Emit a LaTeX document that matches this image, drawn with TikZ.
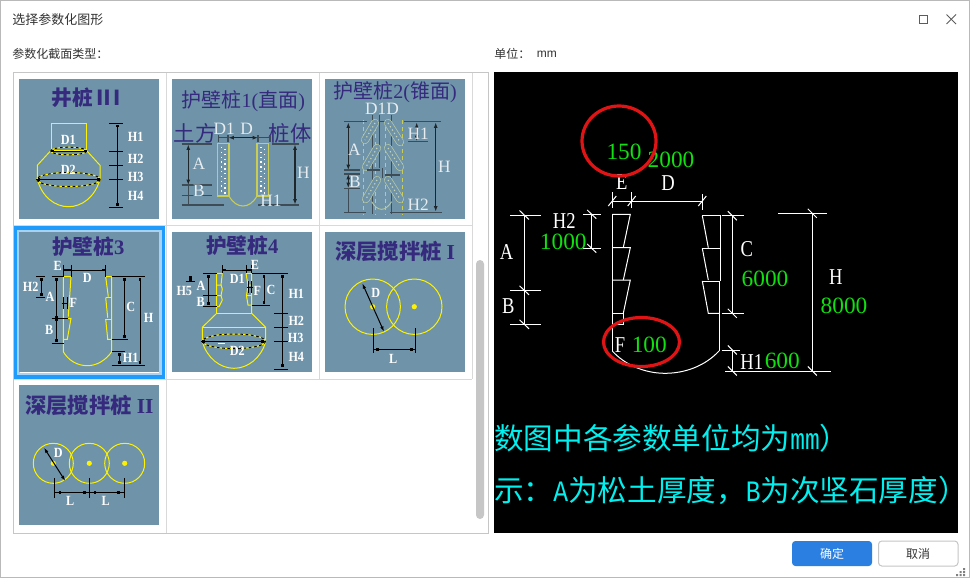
\documentclass[tikz,border=0pt]{standalone}
\usepackage{fontspec}
\setmainfont{Liberation Serif}
\newfontfamily\cjk{Noto Sans CJK SC}
\newfontfamily\cadfont[FakeStretch=0.82]{Liberation Serif}
\newfontfamily\thumbfont[FakeStretch=0.87]{Liberation Serif}
\newfontfamily\halfwidth[FakeStretch=0.83]{Liberation Mono}
\usepackage{tikz}
\usetikzlibrary{positioning,calc}
\usetikzlibrary{arrows.meta}
\definecolor{panelblue}{HTML}{6F93A8}
\definecolor{titleblue}{HTML}{352A7E}
\definecolor{selblue}{HTML}{1E9BFB}
\definecolor{sellight}{HTML}{A6D2F8}
\definecolor{gridgray}{HTML}{D9D9D9}
\definecolor{uitext}{HTML}{333333}
\definecolor{cadgreen}{HTML}{10E010}
\definecolor{cadred}{HTML}{E01414}
\definecolor{cadcyan}{HTML}{00F0F0}
\definecolor{okblue}{HTML}{2B7FE0}
\definecolor{softline}{HTML}{3E4C56}
\definecolor{softyellow}{HTML}{C9CC55}
\definecolor{softwhite}{HTML}{E6ECF0}
\definecolor{softpale}{HTML}{B6C8A4}
\tikzstyle{panel} = [fill=panelblue, draw=none]
\tikzstyle{uilabel} = [inner sep=0pt, anchor=west, text=uitext, font=\cjk\fontsize{9}{11}\selectfont]
\tikzstyle{boldtitle} = [inner sep=0pt, text=titleblue, font=\cjk\bfseries\fontsize{15.5}{17}\selectfont]
\tikzstyle{softtitle} = [inner sep=0pt, text=titleblue, font=\cjk\fontsize{15}{17}\selectfont]
\tikzstyle{softword} = [inner sep=0pt, text=titleblue, font=\cjk\fontsize{16}{17}\selectfont]
\tikzstyle{softlbl} = [inner sep=0pt, text=softwhite, font=\fontsize{13}{14}\selectfont]
\tikzstyle{boldlbl} = [inner sep=0pt, text=white, font=\thumbfont\bfseries\fontsize{10.5}{12}\selectfont]
\tikzstyle{cadlbl} = [inner sep=0pt, text=white, font=\cadfont\fontsize{17}{18}\selectfont]
\tikzstyle{cadnum} = [inner sep=0pt, text=cadgreen, font=\fontsize{17.5}{18}\selectfont]
\tikzstyle{cadnote} = [inner sep=0pt, anchor=west, text=cadcyan, font=\cjk\fontsize{22.2}{24}\selectfont]
\tikzstyle{cadline} = [white, line width=0.75pt]
\tikzstyle{redring} = [cadred, line width=2.4pt]
\tikzstyle{ypile} = [yellow, line width=0.75pt]
\tikzstyle{ydash} = [black, line width=0.75pt, dash pattern=on 2pt off 2pt]
\tikzstyle{bline} = [black, line width=0.75pt]
\tikzstyle{sqdim} = [black, line width=0.75pt, {Square[length=2.2pt,width=2.2pt]}-{Square[length=2.2pt,width=2.2pt]}]
\tikzstyle{arrdim} = [black, line width=0.75pt, {Latex[length=4pt,width=2.6pt]}-{Latex[length=4pt,width=2.6pt]}]
\tikzstyle{softdim} = [softline, line width=0.8pt]
\tikzstyle{softarr} = [softline!50!black, line width=0.8pt, {Latex[length=4pt,width=3pt]}-{Latex[length=4pt,width=3pt]}]
\tikzstyle{softpile} = [softyellow, line width=0.8pt]
\tikzstyle{softdots} = [white, line width=1.1pt, dash pattern=on 1pt off 2.6pt]
\tikzstyle{capout} = [softpale, line width=6pt, line cap=round]
\tikzstyle{capin} = [panelblue, line width=4.9pt, line cap=round]
\tikzstyle{capdots} = [softpale!80!white, line width=0.9pt, dash pattern=on 0.9pt off 2pt]
\tikzstyle{softdash} = [softyellow, line width=0.7pt, dash pattern=on 3pt off 2.4pt]
\begin{document}
\begin{tikzpicture}[x=0.75pt,y=-0.75pt]
\useasboundingbox (0,0) rectangle (970,578);
\fill[white] (0,0) rectangle (970,578);
\draw[gray!55, line width=0.9pt] (0.5,0.5) rectangle (969.5,577.5);
\node[uilabel, font=\cjk\fontsize{9.75}{11}\selectfont] (wintitle) at (12,20) {选择参数化图形};
\draw[uitext!80, line width=0.75pt] (919,15) rectangle (927.5,23.5);
\draw[uitext!80, line width=0.75pt] (946.5,14.5) -- (956,24);
\draw[uitext!80, line width=0.75pt] (956,14.5) -- (946.5,24);
\node[uilabel] (typelabel) at (12,54) {参数化截面类型：};
\node[uilabel] (unitlabel) at (494,54) {单位：};
\node[uilabel, font=\fontsize{9}{11}\selectfont, right=4.5pt of unitlabel.east, inner sep=0pt, anchor=west] (unitvalue) {\fontspec{Liberation Sans}mm};

\draw[gray!45, line width=0.75pt] (13,72.5) rectangle (488,533);
\draw[gridgray, line width=0.75pt] (166,73) -- (166,533);
\draw[gridgray, line width=0.75pt] (319.5,73) -- (319.5,379);
\draw[gridgray, line width=0.75pt] (472,73) -- (472,379);
\draw[gridgray, line width=0.75pt] (14,225) -- (472,225);
\draw[gridgray, line width=0.75pt] (14,379) -- (472,379);
\fill[gray!45, rounded corners=3pt] (476,260) rectangle (484,519);
\draw[sellight, line width=3pt] (18,230.5) rectangle (161,374.5);
\draw[selblue, line width=2.4pt] (15.5,228) rectangle (163.5,377);

\fill[panel] (19,79) rectangle (159,219);
\fill[panel] (172,79) rectangle (312,219);
\fill[panel] (325,79) rectangle (465,219);
\fill[panel] (19,232) rectangle (159,372);
\fill[panel] (172,232) rectangle (312,372);
\fill[panel] (325,232) rectangle (465,372);
\fill[panel] (19,385) rectangle (159,525);

\node[boldtitle] (tjing) at (86.5,97.5) {井桩ⅡI};
\draw[ypile] (51.3,123.3) rectangle (86.7,150.7);
\draw[ypile] (50.7,150.7) -- (37.3,165.3) -- (37.3,179.3) .. controls (42,197) and (55,206.7) .. (68.5,206.7) .. controls (82,206.7) and (95,197) .. (100,179.3) -- (100,165.3) -- (86.7,150.7);
\draw[yellow, line width=0.75pt] (68.7,151) ellipse (18 and 3.8);
\draw[ydash] (68.7,151) ellipse (18 and 3.8);
\draw[yellow, line width=0.75pt] (68.5,179.5) ellipse (31.7 and 7);
\draw[ydash] (68.5,179.5) ellipse (31.7 and 7);
\draw[sqdim] (51,151) -- (86.5,151);
\draw[sqdim] (37.5,179.4) -- (99.5,179.4);
\draw[bline] (36,179.4) -- (100,179.4);
\draw[sqdim] (117.7,124.5) -- (117.7,205.5);
\draw[bline] (109,123.3) -- (122.7,123.3);
\draw[bline] (109,151.3) -- (122.7,151.3);
\draw[bline] (109,165.3) -- (122.7,165.3);
\draw[bline] (109,179.3) -- (122.7,179.3);
\draw[bline] (109,207) -- (122.7,207);
\node[boldlbl] (jd1) at (68.3,140.3) {D1};
\node[boldlbl] (jd2) at (68.3,170) {D2};
\node[boldlbl] (jh1) at (135.7,137.3) {H1};
\node[boldlbl] (jh2) at (135.7,158.7) {H2};
\node[boldlbl] (jh3) at (135.7,176.7) {H3};
\node[boldlbl] (jh4) at (135.7,195.7) {H4};

\node[softtitle] (thu1) at (243.3,100.7) {护壁桩{\rmfamily 1(}直面{\rmfamily )}};
\node[softword] (tu1) at (195,133.5) {土方};
\node[softword] (ti1) at (290,133.5) {桩体};
\node[softlbl] (d1a) at (224.3,128.7) {D1};
\node[softlbl] (da) at (246.7,128.7) {D};
\draw[softpile] (217.3,143.3) rectangle (229,196);
\draw[softpile] (257,143.3) rectangle (268.7,196);
\draw[softpile] (229,196) .. controls (233,203) and (238,206) .. (243,206) .. controls (248,206) and (253,203) .. (257,196);
\draw[softdots] (221.5,147) -- (221.5,194);
\draw[softdots] (225,149) -- (225,194);
\draw[softdots] (261,147) -- (261,194);
\draw[softdots] (264.5,149) -- (264.5,194);
\draw[softdim] (218.3,135) -- (218.3,142);
\draw[softdim] (228,135) -- (228,142);
\draw[softdim] (258,135) -- (258,142);
\draw[softdim] (270,135) -- (270,142);
\draw[softarr] (228.5,137.7) -- (258,137.7);
\draw[softdim] (258,137.7) -- (270,137.7);
\draw[softdim] (218.3,137.7) -- (228,137.7);
\draw[softarr] (188.3,144.5) -- (188.3,185);
\draw[softdim] (188.3,185) -- (188.3,205);
\draw[softdim] (181.7,144) -- (212.3,144);
\draw[softdim] (181.7,185) -- (212.3,185);
\draw[softdim] (181.7,195.3) -- (212.3,195.3);
\draw[softdim] (181.7,205) -- (224.3,205);
\node[softlbl] (aa) at (199,163.3) {A};
\node[softlbl] (ba) at (199,190.7) {B};
\draw[softarr] (295,144.5) -- (295,204.5);
\draw[softdim] (272.3,144) -- (299,144);
\draw[softdim] (258.3,205) -- (299,205);
\node[softlbl] (ha) at (303.3,172.7) {H};
\node[softlbl] (h1a) at (271,200.7) {H1};

\node[softtitle] (thu2) at (395,91.7) {护壁桩{\rmfamily 2(}锥面{\rmfamily )}};
\node[softlbl] (db) at (382,108.5) {D1D};
\draw[softdash] (363.3,120) -- (363.3,214);
\draw[softdash] (402.3,120) -- (402.3,214);
\draw[softdash] (375,120) -- (375,214);
\draw[softdash] (385,120) -- (385,214);
\draw[softdim] (372.3,115) -- (372.3,214);
\draw[softdim] (379.3,115) -- (379.3,168);
\draw[softdim] (391.7,115) -- (391.7,214);
\draw[softdim] (372.3,121.7) -- (391.7,121.7);
\draw[capout] (375,123) -- (365,140);
\draw[capin] (375,123) -- (365,140);
\draw[capdots] (375,123) -- (365,140);
\draw[capout] (388,123) -- (400,142);
\draw[capin] (388,123) -- (400,142);
\draw[capdots] (388,123) -- (400,142);
\draw[capout] (377,148) -- (366,167);
\draw[capin] (377,148) -- (366,167);
\draw[capdots] (377,148) -- (366,167);
\draw[capout] (388,148) -- (400,167);
\draw[capin] (388,148) -- (400,167);
\draw[capdots] (388,148) -- (400,167);
\draw[capout] (377,180) -- (366,199);
\draw[capin] (377,180) -- (366,199);
\draw[capdots] (377,180) -- (366,199);
\draw[capout] (388,180) -- (400,199);
\draw[capin] (388,180) -- (400,199);
\draw[capdots] (388,180) -- (400,199);
\draw[softpale, line width=0.7pt] (371.7,201.7) .. controls (375,207) and (378,209.3) .. (381.7,209.3) .. controls (385,209.3) and (388,207) .. (391.7,201.7);
\draw[softdim] (366.7,170) -- (380,170);
\draw[softdim] (385,175) -- (400,175);
\draw[softdim] (382.3,168) -- (382.3,178);
\draw[softarr] (348.3,122.5) -- (348.3,170);
\draw[softarr] (348.3,174) -- (348.3,188);
\draw[softdim] (348.3,188) -- (348.3,212.3);
\draw[softdim] (344,121.7) -- (366.7,121.7);
\draw[softdim] (344,170) -- (360,170);
\draw[softdim] (344,174) -- (360,174);
\draw[softdim] (344,188.3) -- (360,188.3);
\draw[softdim] (344,212.3) -- (366,212.3);
\node[softlbl] (ab) at (354.3,150) {A};
\node[softlbl] (bb) at (355,181.7) {B};
\draw[softarr] (435.7,122.5) -- (435.7,211.5);
\draw[softdim] (404.3,121.7) -- (441,121.7);
\draw[softdim] (390,212.3) -- (441.7,212.3);
\draw[softarr] (416.7,122.5) -- (416.7,141);
\draw[softdim] (408.3,141.7) -- (428.3,141.7);
\node[softlbl] (hb) at (444.3,166.7) {H};
\node[softlbl] (h1b) at (418.3,133.3) {H1};
\node[softlbl] (h2b) at (418.3,204.3) {H2};

\node[boldtitle] (thu3) at (88.3,246.7) {护壁桩{\rmfamily 3}};
\draw[ypile] (71,276.7) -- (63.3,276.7) -- (63.3,351.7) .. controls (68,360) and (77,365.7) .. (87.3,365.7) .. controls (97,365.7) and (106,360) .. (111.7,351.7) -- (111.7,276.7) -- (105.7,276.7) -- (108.3,296.7);
\draw[ypile] (71,276.7) -- (68.3,316.7);
\draw[ypile] (63.3,318.3) -- (71,318.3) -- (67.3,339.3) -- (63.3,339.3);
\draw[ypile] (105.7,297.7) -- (111.7,297.7);
\draw[ypile] (105.7,297.7) -- (107.7,317.7);
\draw[ypile] (105.7,319) -- (111.7,319);
\draw[ypile] (105.7,319) -- (107.7,339.3) -- (111.7,339.3);
\draw[sqdim] (64,270) -- (105,270);
\draw[bline] (63.3,265) -- (63.3,276.7);
\draw[bline] (71,265) -- (71,276.7);
\draw[bline] (105,265) -- (105,276.7);
\draw[sqdim] (66,270) -- (71,270);
\node[boldlbl] (e3) at (57.7,265.7) {E};
\node[boldlbl] (d3) at (87.3,278.3) {D};
\draw[sqdim] (41.7,278) -- (41.7,296);
\draw[bline] (36,276.7) -- (45,276.7);
\draw[bline] (36,297.3) -- (45,297.3);
\node[boldlbl] (h23) at (30.7,286.7) {H2};
\draw[sqdim] (56.7,278) -- (56.7,342);
\draw[sqdim] (56.7,316) -- (56.7,321);
\draw[bline] (51.7,276.7) -- (63.3,276.7);
\draw[bline] (51.7,318.3) -- (68,318.3);
\draw[bline] (51.7,343.3) -- (64,343.3);
\node[boldlbl] (a3) at (50,296.7) {A};
\node[boldlbl] (b3) at (49.3,330) {B};
\draw[bline] (61.7,303.3) -- (68.3,303.3);
\draw[bline] (63.3,297) -- (63.3,309);
\draw[bline] (67.3,297) -- (67.3,309);
\node[boldlbl] (f3) at (73.3,302.7) {F};
\draw[sqdim] (124.3,278) -- (124.3,338);
\draw[bline] (111.7,276.7) -- (145,276.7);
\draw[bline] (111.7,339.3) -- (128.3,339.3);
\node[boldlbl] (c3) at (130.7,307.3) {C};
\draw[sqdim] (140,278) -- (140,364);
\draw[bline] (111.7,365) -- (145,365);
\node[boldlbl] (h3) at (148.7,318.3) {H};
\draw[sqdim] (119.3,353) -- (119.3,364);
\draw[bline] (111.7,351.7) -- (125,351.7);
\node[boldlbl] (h13) at (130.7,358.3) {H1};

\node[boldtitle] (thu4) at (242.3,245.7) {护壁桩{\rmfamily 4}};
\draw[ypile] (222.3,273.3) -- (216.7,273.3) -- (216.7,313.3) -- (202.3,327.3) -- (202.3,341.7) .. controls (207,358) and (220,368.3) .. (234,368.3) .. controls (248,368.3) and (261,358) .. (265.7,341.7) -- (265.7,327.3) -- (251.7,313.3) -- (251.7,273.3) -- (246,273.3);
\draw[ypile] (216.7,313.3) -- (251.7,313.3);
\draw[ypile] (202.3,327.3) -- (265.7,327.3);
\draw[ypile] (222.3,273.3) -- (221,285) -- (216.7,285);
\draw[ypile] (221,285) -- (222.3,289) -- (221,295.7) -- (216.7,295.7);
\draw[ypile] (221,295.7) -- (222.3,300) -- (219,306.7) -- (216.7,306.7);
\draw[ypile] (246,273.3) -- (248,285) -- (251.7,285);
\draw[ypile] (248,285) -- (246.5,295.7) -- (251.7,295.7);
\draw[ypile] (246.5,295.7) -- (248,305) -- (251.7,305);
\draw[yellow, line width=0.75pt] (234,341.3) ellipse (31.5 and 7.3);
\draw[ydash] (234,341.3) ellipse (31.5 and 7.3);
\draw[sqdim] (202,341.3) -- (264,341.3);
\draw[bline] (201,341.3) -- (265,341.3);
\draw[white, line width=0.75pt] (218,343.5) -- (225,343.5);
\draw[sqdim] (223,270) -- (251,270);
\draw[sqdim] (246,270) -- (250,270);
\draw[bline] (222.3,265) -- (222.3,273);
\draw[bline] (246,265) -- (246,273);
\draw[bline] (251.7,265) -- (251.7,273);
\draw[bline] (203.3,273.3) -- (216.7,273.3);
\draw[bline] (251.7,273.3) -- (287.7,273.3);
\node[boldlbl] (e4) at (255,265) {E};
\node[boldlbl] (d14) at (237.3,279.3) {D1};
\node[boldlbl] (d24) at (237.3,351) {D2};
\draw[bline] (246.7,287.3) -- (253.3,287.3);
\draw[bline] (248,281) -- (248,293);
\draw[bline] (251.7,281) -- (251.7,293);
\node[boldlbl] (f4) at (257.3,290.7) {F};
\draw[sqdim] (264,275) -- (264,304);
\draw[bline] (251.7,305) -- (270,305);
\node[boldlbl] (c4) at (271,289.7) {C};
\draw[sqdim] (282.3,275) -- (282.3,367);
\draw[bline] (274.3,313.3) -- (287.7,313.3);
\draw[bline] (274.3,327.3) -- (287.7,327.3);
\draw[bline] (274.3,341.3) -- (287.7,341.3);
\draw[bline] (274.3,369.3) -- (287.7,369.3);
\node[boldlbl] (h14) at (296.3,294) {H1};
\node[boldlbl] (h24) at (296.3,320.7) {H2};
\node[boldlbl] (h34) at (295.7,338.3) {H3};
\node[boldlbl] (h44) at (296.3,357.3) {H4};
\draw[sqdim] (190.7,275.5) -- (190.7,280.5);
\draw[bline] (185.7,281.7) -- (195,281.7);
\node[boldlbl] (h54) at (184.3,290.7) {H5};
\draw[sqdim] (208.3,275) -- (208.3,305);
\draw[bline] (203.3,295.7) -- (216.7,295.7);
\draw[bline] (203.3,306.7) -- (216.7,306.7);
\node[boldlbl] (a4) at (201,286) {A};
\node[boldlbl] (b4) at (200.7,301.7) {B};

\node[softtitle, font=\cjk\bfseries\fontsize{16}{17}\selectfont] (tshen1) at (395,251.7) {深层搅拌桩 {\rmfamily I}};
\draw[ypile] (372.7,306.7) circle (27.7);
\draw[ypile] (414.3,306.7) circle (27.7);
\fill[yellow] (372.7,306.7) circle (2.6);
\fill[yellow] (414.3,306.7) circle (2.6);
\draw[arrdim] (362.3,283.3) -- (384,331.7);
\draw[bline] (373.3,328.3) -- (373.3,353.3);
\draw[bline] (415,328.3) -- (415,353.3);
\draw[sqdim] (376,349.3) -- (412.5,349.3);
\draw[bline] (373.3,349.3) -- (415,349.3);
\node[boldlbl] (ds1) at (375.7,292.7) {D};
\node[boldlbl] (ls1) at (393.3,359) {L};

\node[softtitle, font=\cjk\bfseries\fontsize{16}{17}\selectfont] (tshen2) at (89.3,405) {深层搅拌桩 {\rmfamily II}};
\draw[ypile] (53.3,463.3) circle (20);
\draw[ypile] (89.3,463.3) circle (20);
\draw[ypile] (124.7,463.3) circle (20);
\fill[yellow] (53.3,463.3) circle (2.6);
\fill[yellow] (89.3,463.3) circle (2.6);
\fill[yellow] (124.7,463.3) circle (2.6);
\draw[arrdim] (44,447.7) -- (65.3,481);
\draw[bline] (54.3,478.3) -- (54.3,497.7);
\draw[bline] (89.3,478.3) -- (89.3,497.7);
\draw[bline] (124.3,478.3) -- (124.3,497.7);
\draw[bline] (54.3,492.3) -- (124.3,492.3);
\draw[sqdim] (58.5,492.3) -- (85.5,492.3);
\draw[sqdim] (93.5,492.3) -- (120,492.3);
\node[boldlbl] (ds2) at (58.3,452.7) {D};
\node[boldlbl] (ls2a) at (70.3,500.7) {L};
\node[boldlbl] (ls2b) at (105.7,500.7) {L};

\fill[black] (494,72) rectangle (958,533);
\draw[cadline] (612.3,214.3) -- (612.3,351);
\draw[cadline] (612.3,214.3) -- (630.3,214.3) -- (623.3,247.5);
\draw[cadline] (612.3,247.7) -- (630.3,247.7) -- (623.3,280);
\draw[cadline] (612.3,280) -- (630.3,280) -- (623.3,313.3);
\draw[cadline] (612.3,313.3) -- (623.3,313.3) -- (623.3,325);
\draw[cadline] (702.3,215.7) -- (720.3,215.7) -- (720.3,281);
\draw[cadline] (702.3,215.7) -- (708.3,247.7);
\draw[cadline] (702.3,248.3) -- (720.3,248.3);
\draw[cadline] (702.3,248.3) -- (708.3,280);
\draw[cadline] (702.3,281) -- (720.3,281);
\draw[cadline] (702.3,281) -- (708.3,313.3) -- (719,313.3);
\draw[cadline] (719,281) -- (719,351);
\draw[cadline] (612.3,351) .. controls (625,365) and (645,373.3) .. (665,373.3) .. controls (685,373.3) and (705,366) .. (719,351);
\draw[cadline] (612.3,324) -- (624,324);
\draw[cadline] (612.3,201) -- (702.3,201);
\draw[cadline] (612.3,192) -- (612.3,208);
\draw[cadline] (631.7,192) -- (631.7,208);
\draw[cadline] (702.3,194) -- (702.3,210);
\draw[cadline] (608.3,206) -- (616.3,196);
\draw[cadline] (627.7,206) -- (635.7,196);
\draw[cadline] (698.3,206) -- (706.3,196);
\draw[cadline] (524.3,215) -- (524.3,324.3);
\draw[cadline] (510,215) -- (540.7,215);
\draw[cadline] (510,290.3) -- (540.7,290.3);
\draw[cadline] (510,324.3) -- (540.7,324.3);
\draw[cadline] (519.5,210.5) -- (529,219.5);
\draw[cadline] (519.5,285.8) -- (529,294.8);
\draw[cadline] (519.5,319.8) -- (529,328.8);
\draw[cadline] (591.7,214.3) -- (591.7,248.3);
\draw[cadline] (583.3,214.3) -- (600.7,214.3);
\draw[cadline] (583.3,248.3) -- (600.7,248.3);
\draw[cadline] (587.2,210) -- (596.2,218.6);
\draw[cadline] (587.2,244) -- (596.2,252.6);
\draw[cadline] (732.3,215.7) -- (732.3,313.3);
\draw[cadline] (721.7,215.7) -- (744,215.7);
\draw[cadline] (721.7,313.3) -- (744,313.3);
\draw[cadline] (727.8,211.2) -- (736.8,220.2);
\draw[cadline] (727.8,308.8) -- (736.8,317.8);
\draw[cadline] (812.3,213.3) -- (812.3,371);
\draw[cadline] (778.3,213.3) -- (826.7,213.3);
\draw[cadline] (725,371) -- (830.7,371);
\draw[cadline] (807.8,208.8) -- (816.8,217.8);
\draw[cadline] (807.8,366.5) -- (816.8,375.5);
\draw[cadline] (732.3,350) -- (732.3,371);
\draw[cadline] (721.7,350) -- (740,350);
\draw[cadline] (727.8,345.5) -- (736.8,354.5);
\draw[cadline] (727.8,366.5) -- (736.8,375.5);
\node[cadlbl] (ee) at (621.7,182.3) {E};
\node[cadlbl] (dd) at (668,183) {D};
\node[cadlbl] (aa2) at (506.7,252.3) {A};
\node[cadlbl] (bb2) at (508.3,305.7) {B};
\node[cadlbl] (hh2) at (564.3,221) {H2};
\node[cadlbl] (cc) at (746.7,249.3) {C};
\node[cadlbl] (hh) at (835.7,276.7) {H};
\node[cadlbl] (hh1) at (751.7,361.7) {H1};
\node[cadlbl] (ff) at (620,345) {F};
\node[cadnum] (nume) at (624,152) {150};
\node[cadnum] (numd) at (671,160) {2000};
\node[cadnum] (numh2) at (563.3,241.5) {1000};
\node[cadnum] (numc) at (765,279) {6000};
\node[cadnum] (numh) at (844,306) {8000};
\node[cadnum] (numh1) at (782.3,361) {600};
\node[cadnum] (numf) at (649.3,345) {100};
\draw[redring] (619,141) ellipse (37 and 35);
\draw[redring] (641.5,342) ellipse (38 and 24.5);
\node[cadnote] (noteone) at (494,438) {数图中各参数单位均为{\halfwidth mm}）};
\node[cadnote] (notetwo) at (494,490) {示：{\halfwidth A}为松土厚度，{\halfwidth B}为次坚石厚度）};

\fill[okblue, rounded corners=2.5pt] (792,541) rectangle (872,566);
\draw[gray!45, fill=white, rounded corners=2.5pt, line width=0.75pt] (878.5,541) rectangle (958,566);
\node[inner sep=0pt, text=white, font=\cjk\fontsize{9}{11}\selectfont] (okbtn) at (832,553.5) {确定};
\node[inner sep=0pt, text=uitext, font=\cjk\fontsize{9}{11}\selectfont] (cancelbtn) at (918,553.5) {取消};
\fill[gray] (963,568) rectangle +(2,2) (959.5,571) rectangle +(2,2) (963,571) rectangle +(2,2) (956,574) rectangle +(2,2) (959.5,574) rectangle +(2,2) (963,574) rectangle +(2,2);
\end{tikzpicture}
\end{document}
